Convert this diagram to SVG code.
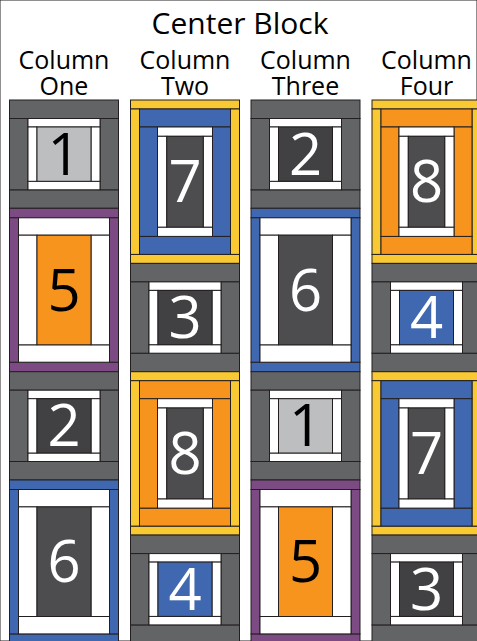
<svg xmlns="http://www.w3.org/2000/svg" width="477" height="641" viewBox="0 0 477 641">
<style>
rect{stroke:#231f20;stroke-width:1}
.g{fill:#636466}.w{fill:#ffffff}.lt{fill:#bcbec0}.dk{fill:#414042}.dk2{fill:#4d4d4f}
.pu{fill:#7d4b84}.or{fill:#f7941d}.bl{fill:#3f68b1}.ye{fill:#f9c933}
text{font-family:"Open Sans","Liberation Sans",sans-serif;text-anchor:middle}
.hd{font-size:30px;fill:#000}.lb{font-size:25px;fill:#000}
.n{font-size:58px}.nw{fill:#fff}.nb{fill:#000}
</style>
<rect width="477" height="641" fill="#fff" stroke="none"/>
<g id="labels">
<text class="hd" x="240" y="34">Center Block</text>
<text class="lb"><tspan x="64" y="69">Column</tspan><tspan x="64" y="95">One</tspan></text>
<text class="lb"><tspan x="185" y="69">Column</tspan><tspan x="185" y="95">Two</tspan></text>
<text class="lb"><tspan x="305.5" y="69">Column</tspan><tspan x="305.5" y="95">Three</tspan></text>
<text class="lb"><tspan x="426.5" y="69">Column</tspan><tspan x="426.5" y="95">Four</tspan></text>
</g>
<g id="connectors"/>

<!-- Column One -->
<g id="c1-1" transform="translate(9.5,100)">
<rect class="g" x="0" y="0" width="109" height="18.5"/><rect class="g" x="0" y="89.8" width="109" height="18.5"/>
<rect class="g" x="0" y="18.5" width="18.5" height="71.3"/><rect class="g" x="90.5" y="18.5" width="18.5" height="71.3"/>
<rect class="w" x="18.5" y="18.5" width="72" height="8.5"/><rect class="w" x="18.5" y="81.3" width="72" height="8.5"/>
<rect class="w" x="18.5" y="27" width="9" height="54.3"/><rect class="w" x="81.5" y="27" width="9" height="54.3"/>
<rect class="lt" x="27.5" y="27" width="54" height="54.3"/>
<text class="n nb" x="54.5" y="74.8">1</text>
</g>
<g id="c1-5" transform="translate(9.5,208.3)">
<rect class="pu" x="0" y="0" width="109" height="9.5"/><rect class="pu" x="0" y="153.9" width="109" height="9.5"/>
<rect class="pu" x="0" y="9.5" width="9" height="144.4"/><rect class="pu" x="100" y="9.5" width="9" height="144.4"/>
<rect class="w" x="9" y="9.5" width="91" height="17.4"/><rect class="w" x="9" y="136.5" width="91" height="17.4"/>
<rect class="w" x="9" y="26.9" width="18.5" height="109.6"/><rect class="w" x="81.5" y="26.9" width="18.5" height="109.6"/>
<rect class="or" x="27.5" y="26.9" width="54" height="109.6"/>
<text class="n nb" x="54.5" y="102.4">5</text>
</g>
<g id="c1-2" transform="translate(9.5,371.7)">
<rect class="g" x="0" y="0" width="109" height="18.5"/><rect class="g" x="0" y="89.8" width="109" height="18.5"/>
<rect class="g" x="0" y="18.5" width="18.5" height="71.3"/><rect class="g" x="90.5" y="18.5" width="18.5" height="71.3"/>
<rect class="w" x="18.5" y="18.5" width="72" height="8.5"/><rect class="w" x="18.5" y="81.3" width="72" height="8.5"/>
<rect class="w" x="18.5" y="27" width="9" height="54.3"/><rect class="w" x="81.5" y="27" width="9" height="54.3"/>
<rect class="dk" x="27.5" y="27" width="54" height="54.3"/>
<text class="n nw" x="54.5" y="74.8">2</text>
</g>
<g id="c1-6" transform="translate(9.5,480)">
<rect class="bl" x="0" y="0" width="109" height="9.5"/><rect class="bl" x="0" y="153.9" width="109" height="9.5"/>
<rect class="bl" x="0" y="9.5" width="9" height="144.4"/><rect class="bl" x="100" y="9.5" width="9" height="144.4"/>
<rect class="w" x="9" y="9.5" width="91" height="17.4"/><rect class="w" x="9" y="136.5" width="91" height="17.4"/>
<rect class="w" x="9" y="26.9" width="18.5" height="109.6"/><rect class="w" x="81.5" y="26.9" width="18.5" height="109.6"/>
<rect class="dk2" x="27.5" y="26.9" width="54" height="109.6"/>
<text class="n nw" x="54.5" y="102.4">6</text>
</g>

<!-- Column Two -->
<g id="c2-7" transform="translate(130.5,100)">
<rect class="ye" x="0" y="0" width="109" height="9"/><rect class="ye" x="0" y="154.4" width="109" height="9"/>
<rect class="ye" x="0" y="9" width="9" height="145.4"/><rect class="ye" x="100" y="9" width="9" height="145.4"/>
<rect class="bl" x="9" y="9" width="91" height="18"/><rect class="bl" x="9" y="136.4" width="91" height="18"/>
<rect class="bl" x="9" y="27" width="18" height="109.4"/><rect class="bl" x="82" y="27" width="18" height="109.4"/>
<rect class="w" x="27" y="27" width="55" height="9.3"/><rect class="w" x="27" y="127.1" width="55" height="9.3"/>
<rect class="w" x="27" y="36.3" width="9.3" height="90.8"/><rect class="w" x="72.7" y="36.3" width="9.3" height="90.8"/>
<rect class="dk2" x="36.3" y="36.3" width="36.4" height="90.8"/>
<text class="n nw" x="54.5" y="102.4">7</text>
</g>
<g id="c2-3" transform="translate(130.5,263.4)">
<rect class="g" x="0" y="0" width="109" height="18.5"/><rect class="g" x="0" y="89.8" width="109" height="18.5"/>
<rect class="g" x="0" y="18.5" width="18.5" height="71.3"/><rect class="g" x="90.5" y="18.5" width="18.5" height="71.3"/>
<rect class="w" x="18.5" y="18.5" width="72" height="8.5"/><rect class="w" x="18.5" y="81.3" width="72" height="8.5"/>
<rect class="w" x="18.5" y="27" width="9" height="54.3"/><rect class="w" x="81.5" y="27" width="9" height="54.3"/>
<rect class="dk" x="27.5" y="27" width="54" height="54.3"/>
<text class="n nw" x="54.5" y="74.8">3</text>
</g>
<g id="c2-8" transform="translate(130.5,371.7)">
<rect class="ye" x="0" y="0" width="109" height="9"/><rect class="ye" x="0" y="154.4" width="109" height="9"/>
<rect class="ye" x="0" y="9" width="9" height="145.4"/><rect class="ye" x="100" y="9" width="9" height="145.4"/>
<rect class="or" x="9" y="9" width="91" height="18"/><rect class="or" x="9" y="136.4" width="91" height="18"/>
<rect class="or" x="9" y="27" width="18" height="109.4"/><rect class="or" x="82" y="27" width="18" height="109.4"/>
<rect class="w" x="27" y="27" width="55" height="9.3"/><rect class="w" x="27" y="127.1" width="55" height="9.3"/>
<rect class="w" x="27" y="36.3" width="9.3" height="90.8"/><rect class="w" x="72.7" y="36.3" width="9.3" height="90.8"/>
<rect class="dk2" x="36.3" y="36.3" width="36.4" height="90.8"/>
<text class="n nw" x="54.5" y="102.4">8</text>
</g>
<g id="c2-4" transform="translate(130.5,535.1)">
<rect class="g" x="0" y="0" width="109" height="18.5"/><rect class="g" x="0" y="89.8" width="109" height="18.5"/>
<rect class="g" x="0" y="18.5" width="18.5" height="71.3"/><rect class="g" x="90.5" y="18.5" width="18.5" height="71.3"/>
<rect class="w" x="18.5" y="18.5" width="72" height="8.5"/><rect class="w" x="18.5" y="81.3" width="72" height="8.5"/>
<rect class="w" x="18.5" y="27" width="9" height="54.3"/><rect class="w" x="81.5" y="27" width="9" height="54.3"/>
<rect class="bl" x="27.5" y="27" width="54" height="54.3"/>
<text class="n nw" x="54.5" y="74.8">4</text>
</g>

<!-- Column Three -->
<g id="c3-2" transform="translate(251,100)">
<rect class="g" x="0" y="0" width="109" height="18.5"/><rect class="g" x="0" y="89.8" width="109" height="18.5"/>
<rect class="g" x="0" y="18.5" width="18.5" height="71.3"/><rect class="g" x="90.5" y="18.5" width="18.5" height="71.3"/>
<rect class="w" x="18.5" y="18.5" width="72" height="8.5"/><rect class="w" x="18.5" y="81.3" width="72" height="8.5"/>
<rect class="w" x="18.5" y="27" width="9" height="54.3"/><rect class="w" x="81.5" y="27" width="9" height="54.3"/>
<rect class="dk" x="27.5" y="27" width="54" height="54.3"/>
<text class="n nw" x="54.5" y="74.8">2</text>
</g>
<g id="c3-6" transform="translate(251,208.3)">
<rect class="bl" x="0" y="0" width="109" height="9.5"/><rect class="bl" x="0" y="153.9" width="109" height="9.5"/>
<rect class="bl" x="0" y="9.5" width="9" height="144.4"/><rect class="bl" x="100" y="9.5" width="9" height="144.4"/>
<rect class="w" x="9" y="9.5" width="91" height="17.4"/><rect class="w" x="9" y="136.5" width="91" height="17.4"/>
<rect class="w" x="9" y="26.9" width="18.5" height="109.6"/><rect class="w" x="81.5" y="26.9" width="18.5" height="109.6"/>
<rect class="dk2" x="27.5" y="26.9" width="54" height="109.6"/>
<text class="n nw" x="54.5" y="102.4">6</text>
</g>
<g id="c3-1" transform="translate(251,371.7)">
<rect class="g" x="0" y="0" width="109" height="18.5"/><rect class="g" x="0" y="89.8" width="109" height="18.5"/>
<rect class="g" x="0" y="18.5" width="18.5" height="71.3"/><rect class="g" x="90.5" y="18.5" width="18.5" height="71.3"/>
<rect class="w" x="18.5" y="18.5" width="72" height="8.5"/><rect class="w" x="18.5" y="81.3" width="72" height="8.5"/>
<rect class="w" x="18.5" y="27" width="9" height="54.3"/><rect class="w" x="81.5" y="27" width="9" height="54.3"/>
<rect class="lt" x="27.5" y="27" width="54" height="54.3"/>
<text class="n nb" x="54.5" y="74.8">1</text>
</g>
<g id="c3-5" transform="translate(251,480)">
<rect class="pu" x="0" y="0" width="109" height="9.5"/><rect class="pu" x="0" y="153.9" width="109" height="9.5"/>
<rect class="pu" x="0" y="9.5" width="9" height="144.4"/><rect class="pu" x="100" y="9.5" width="9" height="144.4"/>
<rect class="w" x="9" y="9.5" width="91" height="17.4"/><rect class="w" x="9" y="136.5" width="91" height="17.4"/>
<rect class="w" x="9" y="26.9" width="18.5" height="109.6"/><rect class="w" x="81.5" y="26.9" width="18.5" height="109.6"/>
<rect class="or" x="27.5" y="26.9" width="54" height="109.6"/>
<text class="n nb" x="54.5" y="102.4">5</text>
</g>

<!-- Column Four -->
<g id="c4-8" transform="translate(372,100)">
<rect class="ye" x="0" y="0" width="109" height="9"/><rect class="ye" x="0" y="154.4" width="109" height="9"/>
<rect class="ye" x="0" y="9" width="9" height="145.4"/><rect class="ye" x="100" y="9" width="9" height="145.4"/>
<rect class="or" x="9" y="9" width="91" height="18"/><rect class="or" x="9" y="136.4" width="91" height="18"/>
<rect class="or" x="9" y="27" width="18" height="109.4"/><rect class="or" x="82" y="27" width="18" height="109.4"/>
<rect class="w" x="27" y="27" width="55" height="9.3"/><rect class="w" x="27" y="127.1" width="55" height="9.3"/>
<rect class="w" x="27" y="36.3" width="9.3" height="90.8"/><rect class="w" x="72.7" y="36.3" width="9.3" height="90.8"/>
<rect class="dk2" x="36.3" y="36.3" width="36.4" height="90.8"/>
<text class="n nw" x="54.5" y="102.4">8</text>
</g>
<g id="c4-4" transform="translate(372,263.4)">
<rect class="g" x="0" y="0" width="109" height="18.5"/><rect class="g" x="0" y="89.8" width="109" height="18.5"/>
<rect class="g" x="0" y="18.5" width="18.5" height="71.3"/><rect class="g" x="90.5" y="18.5" width="18.5" height="71.3"/>
<rect class="w" x="18.5" y="18.5" width="72" height="8.5"/><rect class="w" x="18.5" y="81.3" width="72" height="8.5"/>
<rect class="w" x="18.5" y="27" width="9" height="54.3"/><rect class="w" x="81.5" y="27" width="9" height="54.3"/>
<rect class="bl" x="27.5" y="27" width="54" height="54.3"/>
<text class="n nw" x="54.5" y="74.8">4</text>
</g>
<g id="c4-7" transform="translate(372,371.7)">
<rect class="ye" x="0" y="0" width="109" height="9"/><rect class="ye" x="0" y="154.4" width="109" height="9"/>
<rect class="ye" x="0" y="9" width="9" height="145.4"/><rect class="ye" x="100" y="9" width="9" height="145.4"/>
<rect class="bl" x="9" y="9" width="91" height="18"/><rect class="bl" x="9" y="136.4" width="91" height="18"/>
<rect class="bl" x="9" y="27" width="18" height="109.4"/><rect class="bl" x="82" y="27" width="18" height="109.4"/>
<rect class="w" x="27" y="27" width="55" height="9.3"/><rect class="w" x="27" y="127.1" width="55" height="9.3"/>
<rect class="w" x="27" y="36.3" width="9.3" height="90.8"/><rect class="w" x="72.7" y="36.3" width="9.3" height="90.8"/>
<rect class="dk2" x="36.3" y="36.3" width="36.4" height="90.8"/>
<text class="n nw" x="54.5" y="102.4">7</text>
</g>
<g id="c4-3" transform="translate(372,535.1)">
<rect class="g" x="0" y="0" width="109" height="18.5"/><rect class="g" x="0" y="89.8" width="109" height="18.5"/>
<rect class="g" x="0" y="18.5" width="18.5" height="71.3"/><rect class="g" x="90.5" y="18.5" width="18.5" height="71.3"/>
<rect class="w" x="18.5" y="18.5" width="72" height="8.5"/><rect class="w" x="18.5" y="81.3" width="72" height="8.5"/>
<rect class="w" x="18.5" y="27" width="9" height="54.3"/><rect class="w" x="81.5" y="27" width="9" height="54.3"/>
<rect class="dk" x="27.5" y="27" width="54" height="54.3"/>
<text class="n nw" x="54.5" y="74.8">3</text>
</g>
</svg>
